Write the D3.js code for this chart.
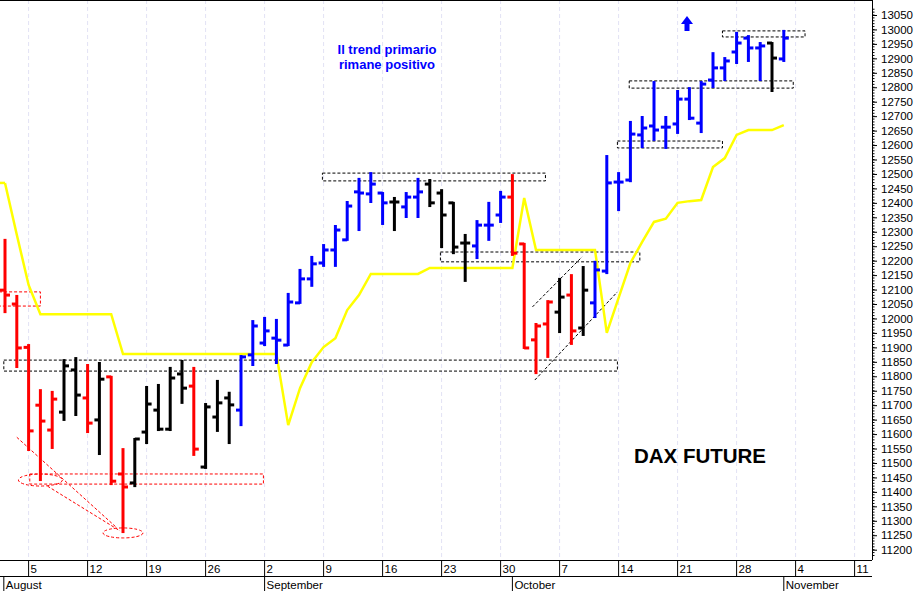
<!DOCTYPE html>
<html>
<head>
<meta charset="utf-8">
<script src="https://cdn.jsdelivr.net/npm/d3@7"></script>
<style>
body { margin: 0; background: #fff; }
svg text { font-family: "Liberation Sans", Arial, sans-serif; }
</style>
</head>
<body>
<svg id="chart" width="920" height="591"></svg>
<script>
// daily bars, Aug 1 .. Nov 1 (trading days)
const opens  = [12098,12050,11900,11700,11614,11676,11822,11725,11649,11798,11462,11431,11607,11683,11617,11808,11766,11486,11659,11725,
  11683,11874,11915,11932,11908,12054,12137,12192,12237,12272,12438,12431,12434,12403,12386,12420,12465,12434,12400,12261,12251,12323,12358,
  12420,12258,11926,11981,12022,12081,11967,12054,12164,12472,12479,12635,12666,12662,12673,12759,12676,12825,12867,12922,12970,12936,12953,12898];
const highs  = [12272,12078,11908,11752,11746,11856,11863,11839,11846,11798,11548,11583,11763,11770,11829,11853,11829,11704,11784,11743,
  11870,11991,12002,11995,12085,12168,12213,12254,12320,12403,12483,12503,12434,12417,12434,12483,12479,12444,12400,12289,12337,12400,12438,
  12496,12258,11981,12060,12137,12150,12178,12196,12562,12503,12680,12697,12818,12697,12787,12797,12818,12918,12901,12988,12977,12953,12953,12995];
const lows   = [12022,11832,11545,11441,11552,11649,11666,11607,11531,11427,11261,11420,11569,11614,11614,11708,11528,11483,11611,11569,
  11631,11839,11908,11846,11908,12054,12113,12182,12182,12272,12306,12403,12327,12306,12351,12351,12389,12247,12226,12130,12209,12272,12334,
  12220,11898,11811,11867,11953,11912,11943,12005,12157,12375,12475,12593,12618,12590,12642,12690,12645,12801,12825,12884,12891,12825,12787,12891];
const closes = [12081,11898,11611,11645,11721,11836,11735,11638,11790,11437,11417,11583,11704,11617,11794,11759,11548,11694,11708,11701,
  11867,11974,11957,11925,12057,12137,12189,12237,12306,12389,12434,12465,12400,12403,12420,12438,12400,12358,12247,12261,12323,12323,12420,
  12226,11898,11974,12057,12074,11957,12098,12168,12469,12472,12638,12659,12652,12662,12759,12693,12811,12867,12891,12953,12936,12943,12901,12970];
const trend  = "rrrrrkkrkrrkkkkkrkkkbbbbbbbbbbbbbkbbkkkkbbbrrrrkrkbbbbbbbbbbbbbbbkb";

// yellow trailing line, one value per day
const stopLine = [12469,12290,12116,12015,12015,12015,12015,12015,12015,12015,11877,11877,11877,11877,11877,11877,11877,11877,11877,11877,
  11877,11877,11877,11877,11631,11759,11849,11901,11932,12029,12081,12154,12154,12154,12154,12154,12175,12175,12175,12175,12175,12175,12175,12175,
  12417,12237,12237,12237,12237,12237,12237,11950,12071,12192,12265,12334,12345,12400,12406,12410,12524,12555,12635,12652,12652,12652,12669];

// week ticks (day index of Mondays) and labels
const weekIdx = [2,7,12,17,22,27,32,37,42,47,52,57,62,67,72];
const weekLbl = ["5","12","19","26","2","9","16","23","30","7","14","21","28","4","11"];
const monthIdx = [-0.1,22,43,66];
const monthLbl = ["August","September","October","November"];

// support / resistance boxes: [from, to, low, high]
const blackBoxes = [[-0.1,51.9,11818,11856],[26.9,45.8,12476,12503],[36.9,53.8,12196,12230],
  [51.9,60.8,12590,12614],[52.9,66.8,12797,12822],[60.8,67.8,12974,12995]];
const redBoxes = [[-0.5,3,12043,12092],[2.1,21.9,11427,11462]];
const redEllipses = [[3,11441,22,6],[10,11258,20,5]];
const redLines = [[1,11589,9.5,11275],[3.6,11420,9.75,11265]];
const channel = [[44.9,11787,51.9,12092],[44.7,12040,48.9,12213]];

const svg = d3.select("#chart");
const x = d3.scaleLinear().domain([0, 66]).range([5, 783.8]);
const y = d3.scaleLinear().domain([11200, 13050]).range([549.7, 15]);
const plotR = 872, plotB = 560;
const colors = { r: "#ff0000", k: "#000000", b: "#0000ff" };

// vertical grid
svg.append("g").selectAll("line").data(weekIdx.filter(i => x(i) < plotR)).join("line")
  .attr("x1", d => x(d)).attr("x2", d => x(d)).attr("y1", 0).attr("y2", plotB)
  .attr("stroke", "#e2e2f4").attr("stroke-dasharray", "4,3");

// frame
svg.append("line").attr("x1", 0).attr("x2", plotR).attr("y1", 0.5).attr("y2", 0.5).attr("stroke", "#000");
svg.append("line").attr("x1", plotR + 0.5).attr("x2", plotR + 0.5).attr("y1", 0).attr("y2", plotB).attr("stroke", "#000");

// right axis
const yAxis = d3.axisRight(y).tickValues(d3.range(11200, 13051, 50)).tickSize(5).tickFormat(d3.format("d"));
const ag = svg.append("g").attr("transform", `translate(${plotR},0)`).call(yAxis);
ag.select(".domain").remove();
ag.selectAll("text").attr("x", 9).attr("font-size", 11.5).attr("fill", "#000");
ag.selectAll("line").attr("stroke", "#000");
svg.append("g").attr("transform", `translate(${plotR},0)`).selectAll("line")
  .data(d3.range(11180, 13080, 10)).join("line")
  .attr("x1", 0).attr("x2", 2.5).attr("y1", d => y(d)).attr("y2", d => y(d)).attr("stroke", "#000");

// bottom date rows
svg.append("line").attr("x1", 0).attr("x2", plotR).attr("y1", plotB + 0.5).attr("y2", plotB + 0.5).attr("stroke", "#000");
svg.append("line").attr("x1", 0).attr("x2", plotR).attr("y1", 576.5).attr("y2", 576.5).attr("stroke", "#000");
const wk = svg.append("g");
wk.selectAll("line").data(weekIdx).join("line")
  .attr("x1", d => x(d)).attr("x2", d => x(d)).attr("y1", plotB).attr("y2", 576).attr("stroke", "#000");
wk.selectAll("text").data(weekIdx).join("text")
  .attr("x", d => x(d) + 2).attr("y", 573).attr("font-size", 11.5).text((d, i) => weekLbl[i]);
const mo = svg.append("g");
mo.selectAll("line").data(monthIdx).join("line")
  .attr("x1", d => x(d)).attr("x2", d => x(d)).attr("y1", 576).attr("y2", 591).attr("stroke", "#000");
mo.selectAll("text").data(monthIdx).join("text")
  .attr("x", d => x(d) + 2).attr("y", 589).attr("font-size", 11.5).text((d, i) => monthLbl[i]);

// boxes
const boxG = svg.append("g").attr("fill", "none").attr("stroke-width", 1).attr("stroke-dasharray", "3,2");
boxG.selectAll("rect.k").data(blackBoxes).join("rect").attr("class", "k")
  .attr("x", d => x(d[0])).attr("y", d => y(d[3])).attr("width", d => x(d[1]) - x(d[0]))
  .attr("height", d => y(d[2]) - y(d[3])).attr("stroke", "#000");
boxG.selectAll("rect.r").data(redBoxes).join("rect").attr("class", "r")
  .attr("x", d => x(d[0])).attr("y", d => y(d[3])).attr("width", d => x(d[1]) - x(d[0]))
  .attr("height", d => y(d[2]) - y(d[3])).attr("stroke", "#ff0000");
boxG.selectAll("ellipse").data(redEllipses).join("ellipse")
  .attr("cx", d => x(d[0])).attr("cy", d => y(d[1])).attr("rx", d => d[2]).attr("ry", d => d[3]).attr("stroke", "#ff0000");
boxG.selectAll("line.r").data(redLines).join("line").attr("class", "r")
  .attr("x1", d => x(d[0])).attr("y1", d => y(d[1])).attr("x2", d => x(d[2])).attr("y2", d => y(d[3])).attr("stroke", "#ff0000");
boxG.selectAll("line.k").data(channel).join("line").attr("class", "k")
  .attr("x1", d => x(d[0])).attr("y1", d => y(d[1])).attr("x2", d => x(d[2])).attr("y2", d => y(d[3])).attr("stroke", "#000");

// yellow line
svg.append("path").datum(stopLine)
  .attr("d", d3.line().x((d, i) => x(i)).y(d => y(d)))
  .attr("fill", "none").attr("stroke", "#ffff00").attr("stroke-width", 2.5);
svg.append("line").attr("x1", 0).attr("x2", x(0)).attr("y1", y(stopLine[0])).attr("y2", y(stopLine[0]))
  .attr("stroke", "#ffff00").attr("stroke-width", 2.5);

// OHLC bars
const bars = svg.append("g").selectAll("g").data(opens.map((o, i) => i)).join("g")
  .attr("stroke", i => colors[trend[i]]).attr("stroke-width", 3);
bars.append("line").attr("x1", i => x(i)).attr("x2", i => x(i))
  .attr("y1", i => y(highs[i]) - 1).attr("y2", i => y(lows[i]) + 1);
bars.append("line").attr("x1", i => x(i) - 5).attr("x2", i => x(i))
  .attr("y1", i => y(opens[i])).attr("y2", i => y(opens[i]));
bars.append("line").attr("x1", i => x(i)).attr("x2", i => x(i) + 5)
  .attr("y1", i => y(closes[i])).attr("y2", i => y(closes[i]));

// annotations
svg.append("text").attr("x", 387).attr("y", 54).attr("text-anchor", "middle").attr("fill", "#0000ff")
  .attr("font-weight", "bold").attr("font-size", 13).text("Il trend primario");
svg.append("text").attr("x", 387).attr("y", 69).attr("text-anchor", "middle").attr("fill", "#0000ff")
  .attr("font-weight", "bold").attr("font-size", 13).text("rimane positivo");
svg.append("text").attr("x", 700).attr("y", 463).attr("text-anchor", "middle").attr("fill", "#000")
  .attr("font-weight", "bold").attr("font-size", 20.5).text("DAX FUTURE");
svg.append("path").attr("d", "M687,16 L693,24 L689.5,24 L689.5,31 L684.5,31 L684.5,24 L681,24 Z").attr("fill", "#0000ff");
</script>
</body>
</html>
